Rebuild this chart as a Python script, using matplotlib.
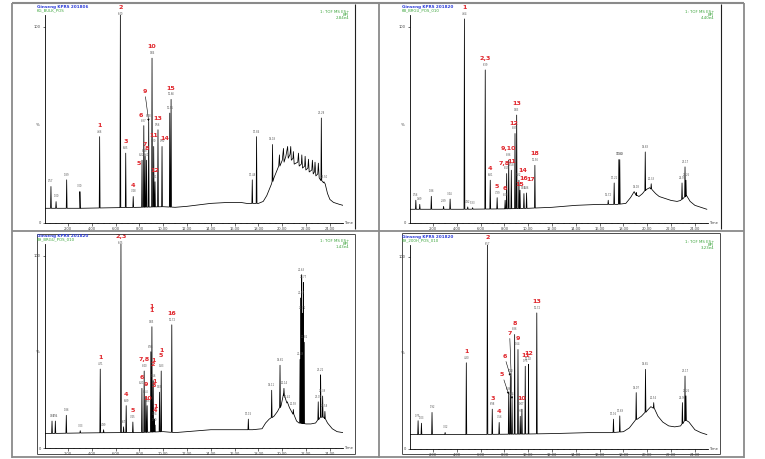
import numpy as np
import matplotlib
matplotlib.use("Agg")
import matplotlib.pyplot as plt
from matplotlib.lines import Line2D

W, H = 765, 459

# ---- top-left chromatogram ----
tl_base_t = [0.07, 3.0, 6.0, 8.0, 10.0, 11.0, 12.0, 14.0, 15.5, 16.5, 17.0, 18.0, 18.4, 18.7, 18.9,
             19.1, 19.3, 19.5, 19.7, 19.76, 19.8, 20.0, 20.1, 20.15, 20.3, 20.45, 20.5, 20.65, 20.71,
             20.76, 20.9, 20.93, 21.0, 21.3, 21.36, 21.42, 21.6, 21.64, 21.7, 21.88, 21.92, 21.98,
             22.15, 22.2, 22.26, 22.48, 22.53, 22.6, 22.7, 22.75, 22.82, 22.98, 23.03, 23.1, 23.2,
             23.6, 23.8, 24.0, 24.3, 24.8, 25.1]
tl_base_v = [7.5, 7.5, 7.8, 8.0, 8.3, 8.0, 8.5, 10.0, 10.5, 10.5, 10.0, 10.0, 11.0, 14.0, 17.0,
             20.0, 23.0, 26.0, 29.0, 34.7, 29.0, 32.0, 38.0, 31.0, 34.0, 39.0, 33.0, 35.0, 39.0,
             32.0, 33.0, 36.4, 30.0, 31.0, 35.6, 29.0, 30.0, 34.7, 28.0, 29.0, 34.0, 27.0,
             28.0, 32.5, 26.0, 27.0, 32.0, 25.0, 26.0, 31.0, 24.0, 25.0, 30.5, 23.0, 22.0,
             20.0, 15.0, 12.0, 10.5, 9.5, 9.0]
tl_peak_t = [0.57, 1.0, 1.89, 3.0, 4.66, 6.40, 6.85, 7.48, 8.22, 8.37, 8.48, 8.60, 8.78, 9.06,
             9.20, 9.31, 9.56, 9.90, 10.55, 10.66, 17.48, 17.84, 19.18, 23.28, 23.50]
tl_peak_h = [18.6, 10.9, 22, 16, 44, 106, 35.6, 13.5, 32, 49.6, 34, 32, 51.8, 84,
             39, 21, 47.5, 39, 56, 63, 22, 44, 40, 53.5, 21]
tl_names = ['1', '2', '3', '4', '5', '6', '7', '8', '9', '10', '11', '12', '13', '14', '15']
tl_name_t = [4.66, 6.40, 6.85, 7.48, 8.22, 8.37, 8.48, 8.60, 8.78, 9.06, 9.20, 9.31, 9.56, 9.90, 10.66]

# ---- top-right chromatogram ----
tr_base_t = [0.07, 4.5, 8.0, 10.0, 12.0, 14.0, 16.0, 17.5, 18.2, 18.6, 18.9, 19.1, 19.3, 19.6, 19.9,
             20.2, 20.4, 20.7, 21.0, 21.5, 22.0, 22.5, 22.8, 23.3, 23.6, 24.0, 24.5, 25.0]
tr_base_v = [7.0, 7.0, 7.2, 7.5, 8.0, 9.0, 9.5, 9.5, 10.0, 13.0, 16.0, 14.0, 13.5, 15.0, 17.0,
             18.0, 17.0, 15.0, 13.5, 12.5, 11.5, 11.0, 11.5, 14.0, 11.0, 9.0, 8.0, 7.0]
tr_peak_t = [0.56, 0.89, 1.86, 2.89, 3.44, 4.64, 4.92, 5.33, 6.39, 6.81, 7.39, 8.06, 8.19, 8.36,
             8.58, 8.89, 9.03, 9.22, 9.31, 9.64, 9.86, 10.56, 16.72, 17.22, 17.61, 17.69, 19.08,
             19.83, 20.33, 22.92, 23.17, 23.25]
tr_peak_h = [11.6, 9.5, 13.6, 8.5, 12.2, 104, 8.2, 7.8, 78, 21.8, 12.9, 11.6, 25.2, 32,
             26.9, 45.6, 55, 21.8, 16.7, 15, 15.3, 29.4, 11.6, 20.4, 32.3, 32.3, 15.5,
             36.2, 20, 20.4, 28.6, 21.8]
tr_names = ['1', '2,3', '4', '5', '6', '7,8', '9,10', '11', '12', '13', '14', '15', '16', '17', '18']
tr_name_t = [4.64, 6.39, 6.81, 7.39, 8.06, 8.19, 8.36, 8.58, 8.89, 9.03, 9.22, 9.31, 9.64, 9.86, 10.56]

# ---- bottom-left chromatogram ----
bl_base_t = [0.07, 3.0, 6.0, 8.0, 10.0, 11.0, 12.0, 14.0, 16.0, 17.5, 18.3, 18.6, 18.9, 19.3, 19.6,
             19.9, 20.1, 20.3, 20.6, 20.9, 21.2, 21.4, 22.0, 22.4, 22.8, 23.2, 23.5, 23.8, 24.2,
             24.6, 25.1]
bl_base_v = [7.5, 7.8, 8.0, 8.0, 8.5, 8.0, 8.5, 9.5, 9.5, 9.5, 10.0, 13.0, 15.0, 16.5, 19.0,
             22.0, 28.0, 25.0, 21.0, 18.0, 14.0, 13.0, 12.5, 12.5, 13.0, 16.0, 16.0, 13.0, 10.0,
             8.5, 8.0]
bl_peak_t = [0.66, 0.94, 1.86, 3.03, 4.71, 4.99, 6.45, 6.67, 6.89, 7.45, 8.21, 8.40, 8.54, 8.65,
             8.96, 9.05, 9.16, 9.24, 9.30, 9.69, 9.83, 10.72, 17.15, 19.11, 19.81, 20.14, 20.42,
             20.93, 21.49, 21.57, 21.63, 21.71, 21.77, 21.82, 23.02, 23.22, 23.39, 23.58]
bl_peak_h = [14, 14, 17, 9, 41, 9.5, 106, 11, 22, 13.5, 31, 40, 26.5, 22,
             50, 63, 35, 15, 12, 29, 40, 64, 15, 30, 43, 31, 24,
             20, 46, 78, 90, 70, 86, 55, 24, 38, 27, 19]
bl_names = ['1', '2,3', '4', '5', '6', '7,8', '9', '10', '1\n1', '1\n2', '1\n3', '1\n4', '1\n5', '16']
bl_name_t = [4.71, 6.45, 6.89, 7.45, 8.21, 8.40, 8.54, 8.65, 9.05, 9.16, 9.24, 9.30, 9.83, 10.72]

# ---- bottom-right chromatogram ----
br_base_t = [0.07, 5.0, 10.0, 12.0, 15.0, 17.0, 18.0, 18.5, 19.0, 19.5, 20.0, 20.3, 20.6, 20.9,
             21.3, 21.8, 22.3, 22.8, 23.2, 23.5, 24.0, 24.5, 25.0]
br_base_v = [7.5, 7.5, 7.8, 8.0, 8.5, 8.5, 9.0, 11.0, 15.0, 17.0, 20.0, 22.0, 21.0, 17.0,
             14.0, 12.0, 11.5, 12.0, 15.0, 14.0, 10.0, 8.5, 7.5]
br_peak_t = [0.75, 1.03, 1.92, 3.02, 4.80, 6.57, 6.98, 7.56, 8.36, 8.50, 8.64, 8.86, 9.14, 9.33,
             9.47, 9.75, 10.02, 10.72, 17.16, 17.69, 19.07, 19.85, 20.54, 22.95, 23.17, 23.25]
br_peak_h = [14.7, 13.4, 19, 8.6, 44.8, 107, 20.7, 13.8, 28.4, 37.9, 25.9, 59.5, 51.7, 17,
             20.7, 43, 44, 70.7, 15.5, 17.2, 29.3, 41.4, 24.1, 24.1, 37.9, 27.6]
br_names = ['1', '2', '3', '4', '5', '6', '7', '8', '9', '10', '11', '12', '13']
br_name_t = [4.80, 6.57, 6.98, 7.56, 8.36, 8.50, 8.64, 8.86, 9.14, 9.47, 9.75, 10.02, 10.72]

header_blue = ['Ginseng KPRS 201806', 'Ginseng KPRS 201820', 'Ginseng KPRS 201820', 'Ginseng KPRS 201820']
header_green = ['KG_BULK_POS', 'KB_BRGU_POS_010', 'KH_BRGU_POS_010', 'KH_200H_POS_010']
scale_text = ['2.84e4', '4.40e4', '1.43e4', '3.23e4']
x_ticks = [2, 4, 6, 8, 10, 12, 14, 16, 18, 20, 22, 24]

# label offsets (dx in min, dy in %, arrow)
tl_off = {'5': (-0.25, -3, False), '6': (-0.25, 4, False), '9': (-0.33, 14, True),
          '14': (0.2, 3, False)}
tr_off = {'7,8': (-0.2, 4, False), '11': (0.05, 3, False), '12': (-0.12, 4, False),
          '14': (0.3, 3.5, False), '15': (0.0, 1.5, False),
          '16': (-0.05, 6.5, False), '17': (0.35, 5.5, False)}
bl_off = {'1\n1': (0, 7, False), '1\n2': (0, 7, False), '1\n3': (0, 16, False),
          '1\n4': (0.02, 6, False), '1\n5': (0, 7, False), '9': (0, 5, False),
          '10': (0.05, 2.5, False)}
br_off = {'5': (-0.55, 9, True), '6': (-0.5, 9, True), '7': (-0.2, 33, True)}

panels = [
    dict(ax=(45, 15, 343, 223), box=None, right=355, top=4, bottom=229, data=(tl_base_t, tl_base_v, tl_peak_t, tl_peak_h, tl_names, tl_name_t, tl_off)),
    dict(ax=(410, 15, 708, 223), box=None, right=721, top=4, bottom=229, data=(tr_base_t, tr_base_v, tr_peak_t, tr_peak_h, tr_names, tr_name_t, tr_off)),
    dict(ax=(45, 244, 343, 448), box=(37, 234, 355, 454), data=(bl_base_t, bl_base_v, bl_peak_t, bl_peak_h, bl_names, bl_name_t, bl_off)),
    dict(ax=(410, 245, 708, 449), box=(402, 233, 720, 454), data=(br_base_t, br_base_v, br_peak_t, br_peak_h, br_names, br_name_t, br_off)),
]

fig = plt.figure(figsize=(W / 100, H / 100), dpi=100)
fig.patch.set_facecolor('white')


def fx(x):
    return x / W


def fy(y):
    return 1 - y / H


def fline(x1, y1, x2, y2, color, lw):
    fig.add_artist(Line2D([fx(x1), fx(x2)], [fy(y1), fy(y2)], transform=fig.transFigure,
                          color=color, lw=lw, solid_capstyle='butt'))


def ftext(x, y, s, **kw):
    fig.text(fx(x), fy(y), s, **kw)


def build_trace(bt, bv, pt, ph, w=0.035):
    xs = list(bt)
    ys = list(bv)
    for t, h in zip(pt, ph):
        b = float(np.interp(t, bt, bv))
        xs += [t - w, t, t + w]
        ys += [b, h, b]
    order = np.argsort(xs, kind='stable')
    return np.array(xs)[order], np.array(ys)[order]


red = '#e0242a'
for i, p in enumerate(panels):
    l, t, r, b = p['ax']
    ax = fig.add_axes([fx(l), fy(b), (r - l) / W, (b - t) / H])
    bt, bv, pt, ph, names, name_t, off = p['data']
    xs, ys = build_trace(bt, bv, pt, ph)
    ax.plot(xs, ys, color='black', lw=0.55)
    ax.set_xlim(0.07, 25.1)
    ax.set_ylim(0, 106)
    for s in ['top', 'right']:
        ax.spines[s].set_visible(False)
    for s in ['left', 'bottom']:
        ax.spines[s].set_linewidth(0.6)
    ax.set_xticks(x_ticks)
    ax.set_xticklabels([f'{v:.2f}' for v in x_ticks], fontsize=2.6, color='#444444')
    ax.set_xticks(np.arange(0.5, 25.01, 0.5), minor=True)
    ax.tick_params(axis='x', which='major', length=2.0, width=0.4, pad=0.8)
    ax.tick_params(axis='x', which='minor', length=1.0, width=0.3)
    ax.set_yticks([0, 100])
    ax.set_yticklabels(['0', '100'], fontsize=2.6, color='#444444')
    ax.tick_params(axis='y', length=1.5, width=0.4, pad=1.5)
    ax.text(-0.02, 50, '%', transform=ax.get_yaxis_transform(), fontsize=2.8,
            ha='right', va='center', color='#444444')
    ax.text(1.005, 0, 'Time', transform=ax.transAxes, fontsize=2.6, ha='left', va='center',
            color='#444444')
    # retention-time labels
    for tt, hh in zip(pt, ph):
        ax.text(tt, min(hh, 104) + 1.6, f'{tt:.2f}', fontsize=1.8, color='#555555',
                ha='center', va='bottom', clip_on=False)
    # peak numbers
    for nm, tn in zip(names, name_t):
        k = int(np.argmin(np.abs(np.array(pt) - tn)))
        top = min(ph[k], 104)
        dx, dy, arrow = off.get(nm, (0, 4.5, False))
        if arrow:
            ax.annotate(nm, xy=(pt[k], top), xytext=(pt[k] + dx, top + dy), fontsize=4.6,
                        color=red, fontweight='bold', ha='center', va='bottom',
                        annotation_clip=False,
                        arrowprops=dict(arrowstyle='-|>', lw=0.4, color='black',
                                        mutation_scale=3, shrinkA=0, shrinkB=0))
        else:
            ax.text(pt[k] + dx, top + dy, nm, fontsize=4.6, color=red, fontweight='bold',
                    ha='center', va='bottom', linespacing=0.9, clip_on=False)

    # header texts
    ftext(l - 8, t - 8, header_blue[i], fontsize=3.0, color='#2b3bd8', fontweight='bold',
          ha='left', va='center')
    ftext(l - 8, t - 4.5, header_green[i], fontsize=2.8, color='#3aa33a', ha='left', va='center')
    for j, s in enumerate(['1: TOF MS ES+', 'BPI', scale_text[i]]):
        ftext(r + 6, t - 3 + 3.2 * j, s, fontsize=2.8, color='#3aa33a', ha='right', va='center')

    # inner picture borders
    if p['box'] is None:
        fline(p['right'], p['top'], p['right'], p['bottom'], '#202020', 0.8)
    else:
        x1, y1, x2, y2 = p['box']
        for seg in [(x1, y1, x2, y1), (x1, y2, x2, y2), (x1, y1, x1, y2), (x2, y1, x2, y2)]:
            fline(*seg, '#303030', 0.6)

# outer table frame
g = '#8a8a8a'
fline(12, 3, 744, 3, g, 1.5)
fline(12, 231, 744, 231, g, 1.3)
fline(12, 457, 744, 457, g, 1.3)
for xv in [12, 379, 744]:
    fline(xv, 3, xv, 458, g, 1.3)

fig.savefig('out.png', dpi=100, facecolor='white')
